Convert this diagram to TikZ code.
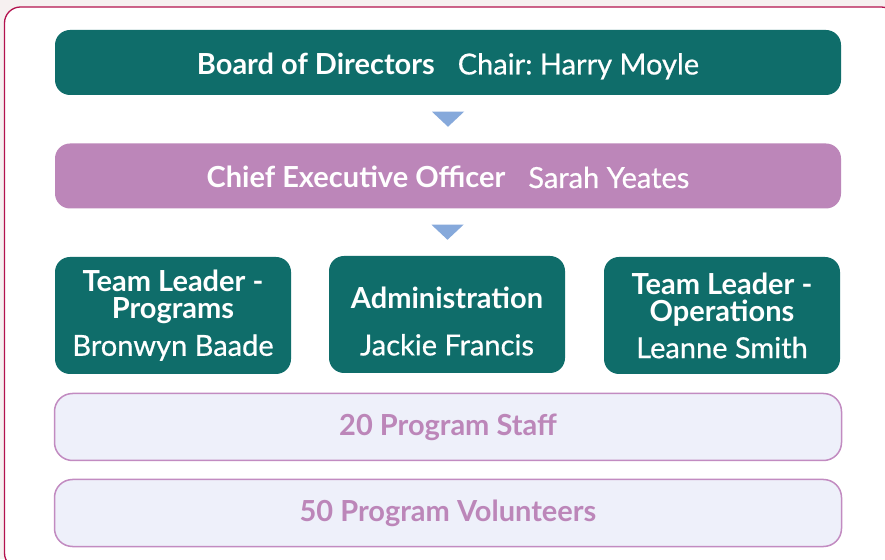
\documentclass[tikz,border=0pt]{standalone}
\usepackage{fontspec}
\setmainfont{Lato}
\frenchspacing
\usepackage{tikz}
\usetikzlibrary{positioning}
\usetikzlibrary{calc}

\definecolor{teal}{HTML}{0F6D6A}
\definecolor{mauve}{HTML}{BC86B9}
\definecolor{arrowblue}{HTML}{86A9DB}
\definecolor{paleblue}{HTML}{EEF0FA}
\definecolor{paleline}{HTML}{C28BC1}
\definecolor{framered}{HTML}{B3124E}
\definecolor{pagebg}{HTML}{F6F0F0}

\newcommand{\person}[1]{{\addfontfeature{FakeBold=0.6}#1}}

\tikzset{
  widebox/.style={rounded corners=15pt, minimum width=786pt, minimum height=65pt,
    text=white, font=\fontsize{29}{30}\selectfont, inner sep=0pt,
    text height=24pt, text depth=0pt},
  leadbox/.style={fill=teal, rounded corners=15pt, minimum width=236pt, minimum height=117pt,
    text=white, align=center, inner sep=0pt, font=\fontsize{29}{27}\selectfont},
  groupbox/.style={fill=paleblue, draw=paleline, line width=1.5pt, rounded corners=18pt,
    minimum width=787pt, minimum height=67pt, text=mauve,
    font=\fontsize{29}{30}\selectfont\bfseries, inner sep=0pt},
  downtri/.style={fill=arrowblue}
}

\begin{document}
\begin{tikzpicture}[x=1pt,y=1pt]
    \useasboundingbox (0,0) rectangle (885,559);
    \fill[pagebg] (0,0) rectangle (885,559);
    \draw[framered, line width=1.3pt, fill=white, rounded corners=16pt] (4.5,-10) rectangle (897,552);

    \node[widebox, fill=teal] (board) at (448,496.5)
      {\textbf{Board of Directors}\hspace{23pt}\person{Chair: Harry Moyle}};
    \node[widebox, fill=mauve] (ceo) at (448,383)
      {\textbf{Chief Executive Officer}\hspace{23pt}\person{Sarah Yeates}};

    \node[leadbox] (tlp) at (173,243.5)
      {\textbf{Team Leader -}\\\textbf{Programs}\\[10pt]\person{Bronwyn Baade}};
    \node[leadbox] (admin) at (447,244.5)
      {\rule{0pt}{35pt}\textbf{Administration}\\[20pt]\person{Jackie Francis}};
    \node[leadbox] (tlo) at (722,243.5)
      {\textbf{Team Leader -}\\\textbf{Operations}\\[10pt]\person{Leanne Smith}};

    \node[groupbox] (staff) at (448,132) {20 Program Staff};
    \node[groupbox] (vols) at (448,46) {50 Program Volunteers};

    % arrows between the top levels
    \path (board.south) -- (ceo.north) coordinate[pos=.5] (m1);
    \path (ceo.south) -- (admin.north) coordinate[pos=.5] (m2);
    \fill[downtri] ($(m1)+(-16,7.5)$) -- ($(m1)+(16,7.5)$) -- ($(m1)+(0,-7.5)$) -- cycle;
    \fill[downtri] ($(m2)+(-16,7.5)$) -- ($(m2)+(16,7.5)$) -- ($(m2)+(0,-7.5)$) -- cycle;
\end{tikzpicture}
\end{document}
